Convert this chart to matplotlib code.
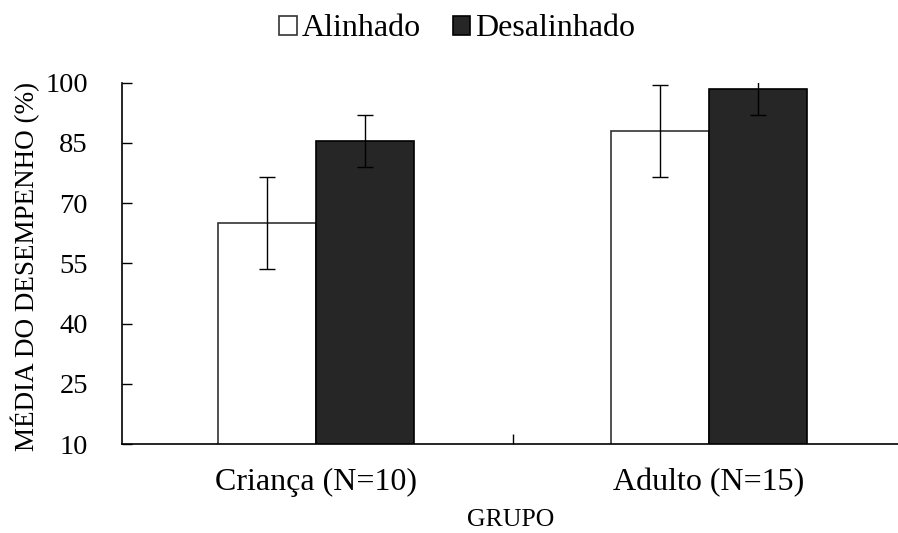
import matplotlib
matplotlib.use("Agg")
import matplotlib.pyplot as plt
import matplotlib.transforms as mtransforms
import numpy as np

categories = ["Criança (N=10)", "Adulto (N=15)"]
series_names = ["Alinhado", "Desalinhado"]
alinhado_mean = [65.0, 88.0]
alinhado_sd = [11.5, 11.5]
desalinhado_mean = [85.5, 98.4]
desalinhado_sd = [6.5, 6.5]
y_ticks = [10, 25, 40, 55, 70, 85, 100]

plt.rcParams['font.family'] = ['Liberation Serif', 'DejaVu Serif']

fig = plt.figure(figsize=(8.98, 5.33), dpi=100)
ax = fig.add_axes([122/898, 1-444/533, 1-122/898, (444-82.7)/533])

x = np.arange(len(categories))
w = 0.25
ek = dict(ecolor='black', elinewidth=1.0, capsize=5.5, capthick=1.0)
ax.bar(x - w/2, alinhado_mean, w, yerr=alinhado_sd, color='white',
       edgecolor='#333333', linewidth=1.2, label=series_names[0], error_kw=ek, zorder=2)
ax.bar(x + w/2, desalinhado_mean, w, yerr=desalinhado_sd, color='#262626',
       edgecolor='black', linewidth=1.2, label=series_names[1], error_kw=ek, zorder=2)

ax.set_ylim(10, 100)
ax.set_xlim(-0.494, 1.481)
ax.set_yticks(y_ticks)
ax.set_yticklabels([str(v) for v in y_ticks], fontsize=20.5)
ax.set_xticks([0.5])
ax.set_xticklabels([""])
lab_tr = mtransforms.offset_copy(ax.transData, fig=fig, y=-17, units='points')
for i, c in enumerate(categories):
    ax.text(x[i], 10, c, fontsize=23, ha='center', va='top',
            transform=lab_tr, clip_on=False)
ax.tick_params(axis='y', direction='in', length=7, width=1, pad=24.5)
ax.tick_params(axis='x', direction='in', length=7, width=1)
for s in ['top', 'right']:
    ax.spines[s].set_visible(False)
ax.spines['left'].set_linewidth(1.2)
ax.spines['bottom'].set_linewidth(1.2)

fig.text(511/898, 1-520/533, "GRUPO", fontsize=18.5, ha='center', va='center')
fig.text(25/898, 1-266/533, "MÉDIA DO DESEMPENHO (%)", fontsize=19.5, rotation=90,
         ha='center', va='center')

leg = fig.legend(loc='center', bbox_to_anchor=(457/898, 1-29/533), ncol=2, frameon=False,
                 fontsize=23, handlelength=0.55, handleheight=0.55, handletextpad=0.15,
                 columnspacing=1.0, borderpad=0, borderaxespad=0)

fig.savefig("out.png", dpi=100)
